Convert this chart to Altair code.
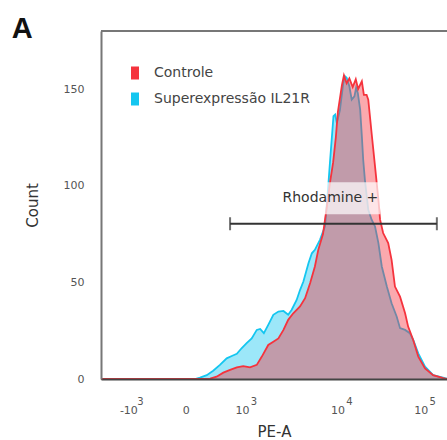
import altair as alt
import pandas as pd

# ---- data (x in display channels 0-1024 of the biexponential PE-A axis, y = count) ----
ctrl_x = [0, 308, 323, 342, 362, 382, 402, 421, 441, 461, 476, 495, 510, 525, 540, 554, 569, 589,
          604, 619, 633, 643, 657, 669, 678, 687, 695, 701, 713, 719, 727, 735, 745, 754, 761, 772,
          778, 786, 791, 801, 811, 821, 826, 835, 850, 860, 870, 885, 900, 909, 924, 939, 959, 983,
          1013, 1024]
ctrl_y = [0, 0, 0.2, 1.2, 3.3, 4.7, 6, 6.7, 6, 7.3, 11.6, 17.6, 19.3, 21, 25.4, 30.6, 34, 37.5,
          41.8, 49.6, 58.2, 66.8, 75, 90, 102, 112, 125, 138, 152, 157, 153, 155.5, 151, 155, 150, 154,
          147, 147, 144.5, 127, 110, 92.7, 82.4, 75.5, 70.3, 61.6, 47.8, 42.6, 34, 27.1, 20.2, 11.6, 5.5, 2,
          0.4, 0.1]

il21r_x = [0, 278, 293, 313, 332, 352, 372, 387, 402, 416, 431, 446, 461, 471, 482, 495, 510, 525,
           540, 554, 564, 579, 589, 599, 614, 624, 633, 648, 663, 671, 678, 688, 693, 698, 707, 717,
           722, 727, 735, 742, 750, 755, 760, 767, 772, 776, 781, 791, 801, 811, 821, 831, 846, 860,
           875, 885, 900, 914, 924, 939, 959, 983, 1018, 1024]
il21r_y = [0, 0, 0.7, 2, 4.3, 7.3, 10.7, 11.9, 13, 15.9, 18.5, 21, 25.4, 25.9, 23.7, 28, 33.2, 34.9,
           35.2, 33.2, 35.7, 40.9, 46, 50.4, 59.9, 65, 66.8, 72, 79, 96, 113, 136, 136.8, 132.4, 139, 153,
           156.6, 155.8, 151.4, 144.5, 146.2, 150.6, 148, 139.3, 125.5, 113.4, 103, 87.5, 82.4, 78.9, 70.3, 58.2, 47.8, 39.2,
           32.3, 26.3, 25.4, 23.7, 20.2, 13.3, 6.4, 2, 0.4, 0.2]

series_names = ["Controle", "Superexpressão IL21R"]
series_colors = ["#f5333d", "#14c6f0"]

tick_pos = [81, 251, 417, 700, 946]
tick_base = ["-10", "0", "10", "10", "10"]
tick_exp = ["3", "", "3", "4", "5"]

y_ticks = [0, 50, 100, 150]

gate_start = [382]
gate_end = [994]
gate_y = [80.3]
gate_label = ["Rhodamine +"]
gate_label_x = [679]
gate_label_y = [93.5]

panel_label = ["A"]

# ---- tables ----
df_ctrl = pd.DataFrame({"x": ctrl_x, "y": ctrl_y, "s": series_names[0]})
df_il = pd.DataFrame({"x": il21r_x, "y": il21r_y, "s": series_names[1]})
df_exp = pd.DataFrame({"x": tick_pos, "e": tick_exp})
df_exp = df_exp[df_exp["e"] != ""]
df_gate = pd.DataFrame({"x": gate_start, "x2": gate_end, "y": gate_y})
df_caps = pd.DataFrame({"x": gate_start + gate_end, "y": gate_y * 2})
df_glab = pd.DataFrame({"x": gate_label_x, "y": gate_label_y, "t": gate_label})
df_panel = pd.DataFrame({"t": panel_label})

W, H = 346, 348
FONT = "DejaVu Sans"

label_expr = " : ".join(
    f"datum.value == {p} ? '{b}'" for p, b in zip(tick_pos, tick_base)
) + " : ''"

xscale = alt.Scale(domain=[0, 1024], nice=False, zero=False)
yscale = alt.Scale(domain=[0, 180], nice=False, zero=True)

x_enc = alt.X(
    "x:Q", scale=xscale,
    axis=alt.Axis(
        values=tick_pos, labelExpr=label_expr, title="PE-A", grid=False,
        ticks=False, tickSize=0, labelPadding=34, labelBaseline="alphabetic",
        labelFont=FONT, labelFontSize=11, labelColor="#555",
        titleFont=FONT, titleFontSize=15, titleFontWeight="normal", titleColor="#333",
        titleBaseline="alphabetic", titleY=57,
        domainColor="#444", domainWidth=2, zindex=1,
    ),
)
y_enc = alt.Y(
    "y:Q", scale=yscale,
    axis=alt.Axis(
        values=y_ticks, title="Count", grid=False, ticks=False, tickSize=0,
        labelPadding=17, labelFont=FONT, labelFontSize=11, labelColor="#555",
        titleFont=FONT, titleFontSize=15, titleFontWeight="normal", titleColor="#333",
        titleBaseline="alphabetic", titleX=-64, titleY=H / 2, titleAngle=270,
        domainColor="#777", domainWidth=2, zindex=1,
    ),
)

color_enc = alt.Color(
    "s:N",
    scale=alt.Scale(domain=series_names, range=series_colors),
    legend=alt.Legend(
        title=None, orient="none", legendX=27, legendY=35, padding=0,
        symbolType="M-0.62,-1H0.62V1H-0.62Z", symbolSize=169,
        symbolOpacity=1, symbolStrokeWidth=0,
        labelFont=FONT, labelFontSize=14, labelColor="#444",
        labelOffset=12, rowPadding=12,
    ),
)

area_il = alt.Chart(df_il).mark_area(fillOpacity=0.42, interpolate="linear").encode(
    x=x_enc, y=y_enc, color=color_enc)
line_il = alt.Chart(df_il).mark_line(strokeWidth=1.8).encode(
    x="x:Q", y="y:Q", color=alt.Color("s:N"))
area_ctrl = alt.Chart(df_ctrl).mark_area(fillOpacity=0.42, interpolate="linear").encode(
    x="x:Q", y="y:Q", color=alt.Color("s:N"))
line_ctrl = alt.Chart(df_ctrl).mark_line(strokeWidth=1.8).encode(
    x="x:Q", y="y:Q", color=alt.Color("s:N"))

exps = alt.Chart(df_exp).mark_text(
    font=FONT, fontSize=10, color="#555", dx=12, align="center", baseline="alphabetic"
).encode(x="x:Q", y=alt.value(373.5), text="e:N")

top_border = alt.Chart(df_panel).mark_rule(color="#777", strokeWidth=2).encode(
    x=alt.value(0), x2=alt.value(W), y=alt.value(0))

glab_bg = alt.Chart(df_glab).mark_rect(width=100, height=32, color="white", opacity=0.7).encode(
    x="x:Q", y="y:Q")
glab = alt.Chart(df_glab).mark_text(
    font=FONT, fontSize=14, color="#333", align="center", baseline="middle"
).encode(x="x:Q", y="y:Q", text="t:N")
gate = alt.Chart(df_gate).mark_rule(color="#333", strokeWidth=2).encode(
    x="x:Q", x2="x2:Q", y="y:Q")
caps = alt.Chart(df_caps).mark_tick(
    color="#333", orient="vertical", size=13, thickness=2).encode(x="x:Q", y="y:Q")

panel = alt.Chart(df_panel).mark_text(
    font="Liberation Sans", fontSize=29, fontWeight="bold", color="#111",
    align="left", baseline="alphabetic"
).encode(x=alt.value(-89.3), y=alt.value(6.7), text="t:N")

chart = alt.layer(
    area_il, line_il, area_ctrl, line_ctrl, glab_bg, glab, gate, caps, exps, top_border, panel
).properties(
    width=W, height=H,
    autosize=alt.AutoSizeParams(type="none"),
    padding={"left": 101, "top": 31, "right": 0, "bottom": 61},
).configure_view(stroke=None).configure(background="white")

chart.save("out.html", embed_options={"renderer": "svg", "actions": False})
